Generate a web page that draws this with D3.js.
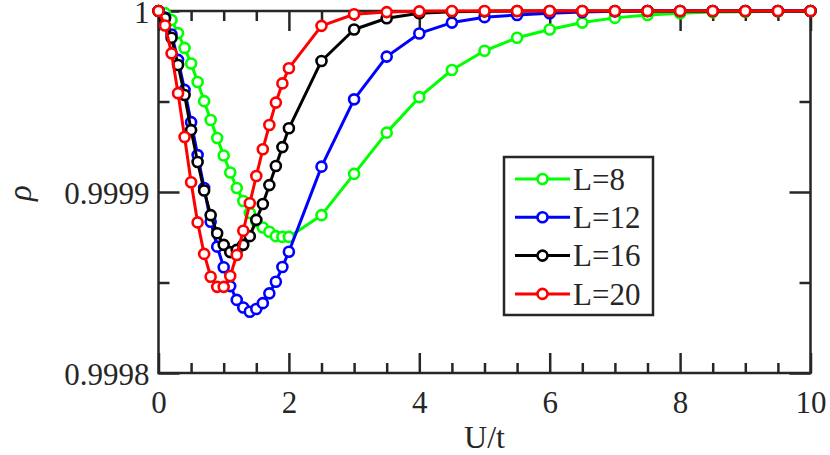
<!DOCTYPE html>
<html>
<head>
<meta charset="utf-8">
<script src="https://cdn.jsdelivr.net/npm/d3@7"></script>
<style>
  html, body { margin: 0; padding: 0; background: #fff; }
  svg { display: block; }
</style>
</head>
<body>
<div id="chart"></div>
<script>
// rho vs U/t for four lattice sizes
const U = [0, 0.1, 0.2, 0.3, 0.4, 0.5, 0.6, 0.7, 0.8, 0.9, 1.0,
  1.1, 1.2, 1.3, 1.4, 1.5, 1.6, 1.7, 1.8, 1.9, 2.0,
  2.5, 3.0, 3.5, 4.0, 4.5, 5.0, 5.5, 6.0, 6.5, 7.0, 7.5, 8.0, 8.5, 9.0, 9.5, 10];

const rhoL8 = [1, 0.9999988, 0.999995, 0.9999878, 0.9999796, 0.999971, 0.9999608, 0.9999502, 0.9999398, 0.9999298, 0.9999202,
  0.9999108, 0.9999022, 0.999895, 0.9998884, 0.9998838, 0.9998804, 0.999878, 0.9998756, 0.9998752, 0.9998752,
  0.9998872, 0.99991, 0.9999328, 0.9999524, 0.9999674, 0.999978, 0.9999852, 0.9999898, 0.9999936, 0.9999962, 0.9999978, 0.9999988, 0.9999994, 0.9999996, 0.9999998, 1];

const rhoL12 = [1, 0.9999964, 0.999987, 0.999973, 0.9999564, 0.9999386, 0.9999204, 0.9999022, 0.9998836, 0.9998698, 0.9998584,
  0.999848, 0.9998404, 0.9998362, 0.9998338, 0.9998354, 0.9998386, 0.999844, 0.9998504, 0.9998586, 0.999867,
  0.999914, 0.9999512, 0.9999748, 0.9999876, 0.9999936, 0.9999966, 0.9999978, 0.9999988, 0.9999994, 0.9999998, 1, 1, 1, 1, 1, 1];

const rhoL16 = [1, 0.999996, 0.9999852, 0.9999702, 0.9999536, 0.9999342, 0.9999166, 0.9999008, 0.9998872, 0.9998772, 0.9998708,
  0.9998668, 0.999868, 0.9998708, 0.9998756, 0.9998846, 0.9998934, 0.9999038, 0.9999144, 0.9999248, 0.9999352,
  0.9999724, 0.9999898, 0.999996, 0.9999988, 0.9999996, 0.9999998, 1, 1, 1, 1, 1, 1, 1, 1, 1, 1];

const rhoL20 = [1, 0.999992, 0.9999766, 0.9999546, 0.9999304, 0.9999054, 0.9998832, 0.9998658, 0.9998532, 0.9998476, 0.9998476,
  0.9998536, 0.9998652, 0.9998786, 0.9998938, 0.9999088, 0.9999236, 0.999937, 0.9999494, 0.99996, 0.9999684,
  0.9999918, 0.9999982, 0.9999994, 0.9999998, 1, 1, 1, 1, 1, 1, 1, 1, 1, 1, 1, 1];

const seriesNames = ['L=8', 'L=12', 'L=16', 'L=20'];
const seriesColors = ['#00ff00', '#0000ff', '#000000', '#ff0000'];
const seriesValues = [rhoL8, rhoL12, rhoL16, rhoL20];

const xMajorTicks = [0, 2, 4, 6, 8, 10];
const xMinorTicks = [0.5, 1, 1.5, 2.5, 3, 3.5, 4.5, 5, 5.5, 6.5, 7, 7.5, 8.5, 9, 9.5];
const yMajorTicks = [0.9998, 0.9999, 1];
const yTickLabels = ['0.9998', '0.9999', '1'];
const yMinorTicks = [0.99985, 0.99995];

(function () {
  const W = 830, H = 455;
  const margin = { top: 11, right: 19.5, bottom: 82, left: 158.5 };
  const INK = '#262626';
  const FONT = '"Liberation Serif", "Times New Roman", serif';

  const svg = d3.select('#chart').append('svg')
    .attr('width', W).attr('height', H);

  const x = d3.scaleLinear().domain([0, 10]).range([margin.left, W - margin.right]);
  const y = d3.scaleLinear().domain([0.9998, 1]).range([H - margin.bottom, margin.top]);
  const [x0, x1] = x.range();
  const [y0, y1] = y.range();

  // ---- ticks (all pointing inward, mirrored on top/right) ----
  function styleAxis(g) {
    g.select('.domain').remove();
    g.selectAll('line').attr('stroke', INK).attr('stroke-width', 2.5);
  }
  const bottomMajor = svg.append('g').attr('transform', `translate(0,${y0})`)
    .call(d3.axisBottom(x).tickValues(xMajorTicks).tickSize(-20).tickFormat(d3.format('d')));
  const bottomMinor = svg.append('g').attr('transform', `translate(0,${y0})`)
    .call(d3.axisBottom(x).tickValues(xMinorTicks).tickSize(-10).tickFormat(''));
  const topMajor = svg.append('g').attr('transform', `translate(0,${y1})`)
    .call(d3.axisTop(x).tickValues(xMajorTicks).tickSize(-20).tickFormat(''));
  const topMinor = svg.append('g').attr('transform', `translate(0,${y1})`)
    .call(d3.axisTop(x).tickValues(xMinorTicks).tickSize(-10).tickFormat(''));
  const leftMajor = svg.append('g').attr('transform', `translate(${x0},0)`)
    .call(d3.axisLeft(y).tickValues(yMajorTicks).tickSize(-21)
      .tickFormat((d, i) => yTickLabels[i]));
  const leftMinor = svg.append('g').attr('transform', `translate(${x0},0)`)
    .call(d3.axisLeft(y).tickValues(yMinorTicks).tickSize(-11).tickFormat(''));
  const rightMajor = svg.append('g').attr('transform', `translate(${x1},0)`)
    .call(d3.axisRight(y).tickValues(yMajorTicks).tickSize(-21).tickFormat(''));
  const rightMinor = svg.append('g').attr('transform', `translate(${x1},0)`)
    .call(d3.axisRight(y).tickValues(yMinorTicks).tickSize(-11).tickFormat(''));

  [bottomMajor, bottomMinor, topMajor, topMinor, leftMajor, leftMinor, rightMajor, rightMinor]
    .forEach(styleAxis);

  bottomMajor.selectAll('text')
    .attr('y', 40).attr('dy', null)
    .attr('fill', INK).attr('font-family', FONT).attr('font-size', '31px');
  leftMajor.selectAll('text')
    .attr('x', -9).attr('dy', '0.38em')
    .attr('fill', INK).attr('font-family', FONT).attr('font-size', '31px');

  // frame
  svg.append('rect')
    .attr('x', x0).attr('y', y1).attr('width', x1 - x0).attr('height', y0 - y1)
    .attr('fill', 'none').attr('stroke', INK).attr('stroke-width', 2.5);

  // axis titles
  svg.append('text')
    .attr('x', (x0 + x1) / 2).attr('y', 448)
    .attr('text-anchor', 'middle')
    .attr('fill', INK).attr('font-family', FONT).attr('font-size', '32px')
    .text('U/t');
  svg.append('text')
    .attr('transform', `translate(31,${(y0 + y1) / 2 + 1}) rotate(-90)`)
    .attr('text-anchor', 'middle')
    .attr('fill', INK).attr('font-family', FONT).attr('font-size', '33px')
    .attr('font-style', 'italic')
    .text('ρ');

  // ---- series ----
  const line = d3.line().x(d => x(d[0])).y(d => y(d[1]));
  seriesValues.forEach((vals, i) => {
    const pts = U.map((u, j) => [u, vals[j]]);
    const g = svg.append('g');
    g.append('path').datum(pts)
      .attr('d', line)
      .attr('fill', 'none').attr('stroke', seriesColors[i]).attr('stroke-width', 3)
      .attr('stroke-linejoin', 'round');
    g.selectAll('circle').data(pts).join('circle')
      .attr('cx', d => x(d[0])).attr('cy', d => y(d[1])).attr('r', 5)
      .attr('fill', '#fff').attr('stroke', seriesColors[i]).attr('stroke-width', 2.6);
  });

  // ---- legend ----
  const legend = svg.append('g').attr('transform', 'translate(504,157)');
  legend.append('rect')
    .attr('width', 149).attr('height', 158)
    .attr('fill', '#fff').attr('stroke', INK).attr('stroke-width', 2.5);
  seriesNames.forEach((name, i) => {
    const cy = 22 + i * 38.3;
    const row = legend.append('g').attr('transform', `translate(0,${cy})`);
    row.append('line').attr('x1', 11).attr('x2', 66).attr('y1', 0).attr('y2', 0)
      .attr('stroke', seriesColors[i]).attr('stroke-width', 3);
    row.append('circle').attr('cx', 38.5).attr('cy', 0).attr('r', 5)
      .attr('fill', '#fff').attr('stroke', seriesColors[i]).attr('stroke-width', 2.6);
    row.append('text').attr('x', 69).attr('y', 0).attr('dy', '0.35em')
      .attr('fill', INK).attr('font-family', FONT).attr('font-size', '31px')
      .text(name);
  });
})();
</script>
</body>
</html>
